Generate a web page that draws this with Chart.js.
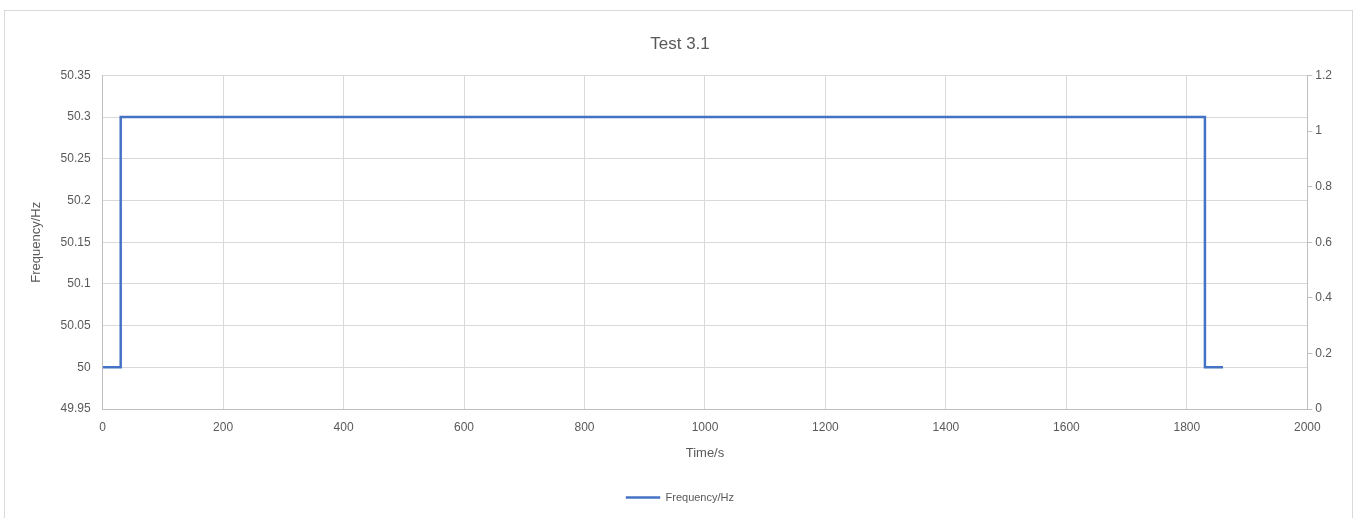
<!DOCTYPE html>
<html>
<head>
<meta charset="utf-8">
<script src="https://cdn.jsdelivr.net/npm/chart.js@4"></script>
<style>
  body { margin: 0; background: #fff; }
  #box { position: absolute; left: 4px; top: 10px; width: 1349px; height: 520px; border: 1px solid #d9d9d9; box-sizing: border-box; }
</style>
</head>
<body>
<div id="box"><canvas id="myChart" width="1347" height="508"></canvas></div>
<script>
// time (s) and frequency (Hz) of the step test
var times = [0, 30, 30, 1830, 1830, 1860];
var freqs = [50, 50, 50.3, 50.3, 50, 50];
var seriesName = "Frequency/Hz";

var points = times.map(function(t, i) {
    return {x: t, y: freqs[i]};
});

Chart.defaults.font.family = "'Liberation Sans', sans-serif";
Chart.defaults.color = '#595959';

const ctx = document.getElementById('myChart').getContext('2d');
const myChart = new Chart(ctx, {
    type: 'scatter',
    data: {
        datasets: [
            {
                label: seriesName,
                data: points,
                showLine: true,
                borderColor: '#4472C4',
                backgroundColor: '#4472C4',
                borderWidth: 2.5,
                pointRadius: 0,
                yAxisID: 'y'
            }
        ]
    },
    options: {
        responsive: false,
        animation: false,
        layout: { padding: { left: 20, right: 17, top: 8, bottom: 6 } },
        plugins: {
            title: {
                display: true,
                text: "Test 3.1",
                font: { size: 17, weight: 'normal' },
                padding: { top: 15, bottom: 21 }
            },
            legend: {
                position: 'bottom',
                labels: {
                    boxWidth: 34,
                    boxHeight: 2,
                    font: { size: 11 },
                    padding: 10,
                    generateLabels: function(chart) {
                        var items = Chart.defaults.plugins.legend.labels.generateLabels(chart);
                        items.forEach(function(it) { it.lineWidth = 0.5; });
                        return items;
                    }
                }
            },
            tooltip: { enabled: false }
        },
        scales: {
            x: {
                type: 'linear',
                min: 0,
                max: 2000,
                ticks: {
                    stepSize: 200,
                    maxRotation: 0,
                    font: { size: 12 },
                    padding: 11,
                    callback: function(v) { return String(v); }
                },
                grid: { color: '#d9d9d9', drawTicks: false },
                border: { color: '#bfbfbf' },
                title: { display: true, text: "Time/s", font: { size: 13 }, padding: { top: 0, bottom: 21 } }
            },
            y: {
                position: 'left',
                min: 49.95,
                max: 50.35,
                ticks: {
                    stepSize: 0.05,
                    font: { size: 12 },
                    padding: 12,
                    callback: function(v) { return String(Math.round(v * 100) / 100); }
                },
                grid: { color: '#d9d9d9', drawTicks: false },
                border: { color: '#bfbfbf' },
                title: { display: true, text: "Frequency/Hz", font: { size: 13 } }
            },
            y2: {
                position: 'right',
                min: 0,
                max: 1.2,
                ticks: {
                    stepSize: 0.2,
                    font: { size: 12 },
                    callback: function(v) { return String(Math.round(v * 10) / 10); }
                },
                grid: { drawOnChartArea: false, color: '#bfbfbf', tickLength: 5 },
                border: { color: '#bfbfbf' }
            }
        }
    }
});
</script>
</body>
</html>
